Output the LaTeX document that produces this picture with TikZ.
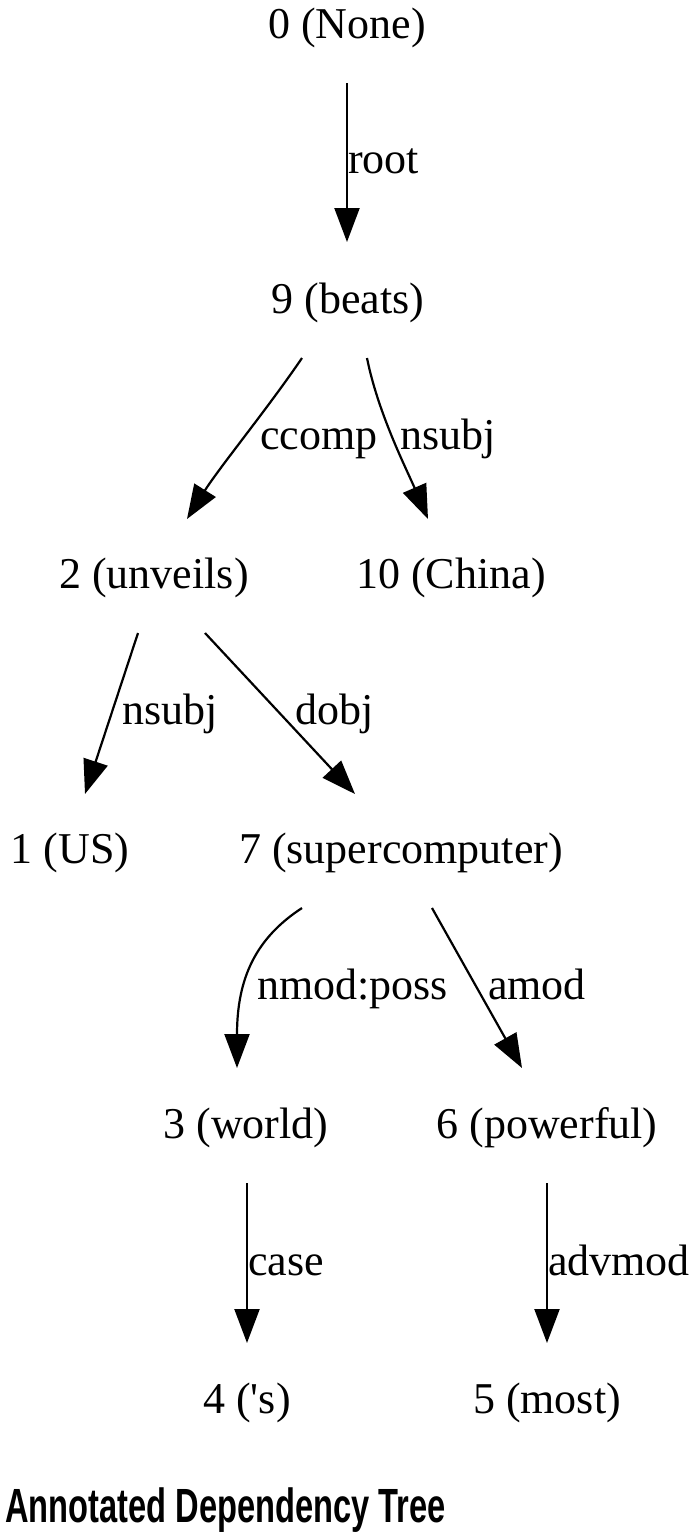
\documentclass[tikz,border=0pt]{standalone}
\usepackage{fontspec}
\setmainfont{Liberation Serif}[Ligatures=TeXOff]
\newfontfamily\titlefont{Liberation Sans}
\usetikzlibrary{arrows.meta,calc}
\tikzset{
  word/.style={inner sep=0pt, anchor=base, font=\fontsize{44}{50}\selectfont},
  rel/.style={inner sep=0pt, anchor=base west, font=\fontsize{44}{50}\selectfont},
  edge/.style={line width=2.2pt, -{Triangle[length=34pt,width=25pt]}},
}
\begin{document}
\begin{tikzpicture}[x=1pt,y=-1pt]
\useasboundingbox[fill=white] (0,0) rectangle (700,1540);
% words
\node[word] (n0) at (347,38) {0 (None)};
\node[word] (n9) at (348,313) {9 (beats)};
\node[word] (n2) at (154,588) {2 (unveils)};
\node[word] (n10) at (451,588) {10 (China)};
\node[word] (n1) at (70,863) {1 (US)};
\node[word] (n7) at (401,863) {7 (supercomputer)};
\node[word] (n3) at (246,1138) {3 (world)};
\node[word] (n6) at (547,1138) {6 (powerful)};
\node[word] (n4) at (247,1413) {4 ('s)};
\node[word] (n5) at (547,1413) {5 (most)};
% relations
\node[rel] (lroot) at (348,173) {root};
\node[rel] (lccomp) at (260,449) {ccomp};
\node[rel] (lnsubjA) at (400,449) {nsubj};
\node[rel] (lnsubjB) at (122,724) {nsubj};
\node[rel] (ldobj) at (295,724) {dobj};
\node[rel] (lnmod) at (257,999) {nmod:poss};
\node[rel] (lamod) at (488,999) {amod};
\node[rel] (lcase) at (248,1275) {case};
\node[rel] (ladv) at (548,1275) {advmod};
% edges
\draw[edge] ($(n0.base)+(0,45)$) -- ($(n9.base)+(-1,-71)$);
\draw[edge] ($(n9.base)+(-46,45)$) .. controls ($(n9.base)+(-80,95)$) and ($(n2.base)+(65,-120)$) .. ($(n2.base)+(33,-69)$);
\draw[edge] ($(n9.base)+(19,45)$) .. controls ($(n9.base)+(30,100)$) and ($(n10.base)+(-45,-120)$) .. ($(n10.base)+(-23,-69)$);
\draw[edge] ($(n2.base)+(-16,45)$) -- ($(n1.base)+(15,-69)$);
\draw[edge] ($(n2.base)+(51,45)$) -- ($(n7.base)+(-46,-69)$);
\draw[edge] ($(n7.base)+(-99,45)$) .. controls ($(n7.base)+(-145,75)$) and ($(n3.base)+(-9,-160)$) .. ($(n3.base)+(-9,-70)$);
\draw[edge] ($(n7.base)+(31,45)$) -- ($(n6.base)+(-25,-70)$);
\draw[edge] ($(n3.base)+(1,45)$) -- ($(n4.base)+(0,-70)$);
\draw[edge] ($(n6.base)+(0,45)$) -- ($(n5.base)+(0,-70)$);
% title
\node[inner sep=0pt, anchor=base west] (title) at (5,1522) {\scalebox{0.68}[1]{\titlefont\bfseries\fontsize{48}{52}\selectfont Annotated Dependency Tree}};
\end{tikzpicture}
\end{document}
